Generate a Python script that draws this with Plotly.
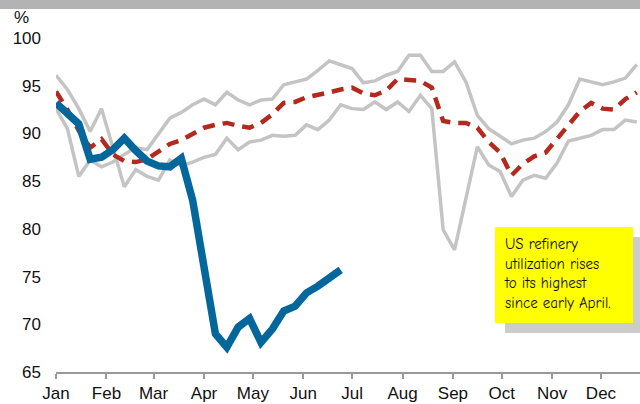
import plotly.graph_objects as go
import pandas as pd

# weekly points, first week of the year to late December
weeks = pd.date_range('2020-01-01', periods=52, freq='7D')

# refinery utilization, % (2020 through late June)
util_2020 = [93.2, 92.2, 91.0, 87.3, 87.5, 88.3, 89.5, 88.2, 87.1, 86.6,
             86.5, 87.4, 83.0, 76.0, 69.0, 67.6, 69.7, 70.6, 68.1, 69.5,
             71.4, 71.9, 73.3, 74.0, 74.8, 75.7]

# five-year average
util_avg = [94.4, 92.5, 90.3, 88.5, 89.4, 87.8, 87.1, 87.0, 87.3, 88.1,
            88.9, 89.3, 90.0, 90.6, 90.9, 91.1, 90.8, 90.6, 91.1, 92.0,
            93.2, 93.3, 93.8, 94.0, 94.3, 94.6, 94.8, 94.2, 94.0, 94.5,
            95.7, 95.6, 95.5, 94.8, 91.3, 91.1, 91.1, 90.6, 89.1, 88.0,
            85.6, 86.8, 87.6, 88.0, 89.4, 90.9, 92.3, 93.2, 92.6, 92.5,
            93.6, 94.3]

# range lines (grey)
range_a = [96.1, 94.6, 92.6, 90.2, 92.6, 88.5, 84.4, 86.2, 85.5, 85.1,
           87.2, 86.6, 87.0, 87.5, 87.8, 89.5, 88.3, 89.1, 89.3, 89.8,
           89.7, 89.8, 90.9, 90.4, 91.4, 93.0, 92.6, 92.5, 93.3, 92.5,
           93.3, 92.3, 94.0, 92.6, 79.9, 77.8, 83.4, 88.6, 86.7, 86.0,
           83.4, 85.1, 85.6, 85.3, 86.9, 89.2, 89.5, 89.8, 90.4, 90.4,
           91.4, 91.2]
range_b = [92.6, 90.5, 85.5, 87.2, 86.5, 87.0, 87.8, 88.5, 88.3, 90.0,
           91.6, 92.2, 93.0, 93.6, 93.0, 94.3, 93.5, 93.0, 93.5, 93.6,
           95.1, 95.4, 95.7, 96.6, 97.6, 97.2, 96.8, 95.3, 95.5, 96.1,
           96.5, 98.2, 98.2, 96.5, 96.5, 97.5, 95.4, 91.9, 90.5, 89.7,
           88.9, 89.3, 89.5, 90.2, 91.2, 93.0, 95.7, 95.4, 95.1, 95.4,
           95.8, 97.2]

y_ticks = [65, 70, 75, 80, 85, 90, 95, 100]
note = 'US refinery<br>utilization rises<br>to its highest<br>since early April.'

W, H = 640, 404
L, R, T, B = 56, 0, 38, 32


def px(x):
    return (x - L) / (W - L - R)


def py(y):
    return (H - B - y) / (H - T - B)


fig = go.Figure()

for s in (range_a, range_b):
    fig.add_trace(go.Scatter(
        x=weeks, y=s, mode='lines',
        line=dict(color='#c4c4c4', width=3.5),
        hoverinfo='skip'
    ))

fig.add_trace(go.Scatter(
    x=weeks, y=util_avg, mode='lines',
    line=dict(color='#b3291d', width=4.5, dash='12px,8px')
))

fig.add_trace(go.Scatter(
    x=weeks[:len(util_2020)], y=util_2020, mode='lines',
    line=dict(color='#03679b', width=7.5)
))

fig.update_layout(
    width=W, height=H,
    showlegend=False,
    plot_bgcolor='white',
    paper_bgcolor='white',
    margin=dict(l=L, r=R, t=T, b=B),
    font=dict(family='Liberation Sans, Arial, sans-serif', size=17,
              color='#111111'),
    shapes=[
        # grey band across the top
        dict(type='rect', xref='paper', yref='paper',
             x0=px(0), x1=px(W), y0=py(9), y1=py(0),
             fillcolor='#b3b3b3', line_width=0, layer='above'),
        # note shadow and box
        dict(type='rect', xref='paper', yref='paper',
             x0=px(505), x1=px(640), y0=py(333), y1=py(237),
             fillcolor='#cccccc', line_width=0, layer='above'),
        dict(type='rect', xref='paper', yref='paper',
             x0=px(495), x1=px(633), y0=py(323), y1=py(227),
             fillcolor='#ffff00', line_width=0, layer='above'),
    ],
    annotations=[
        dict(text='%', xref='paper', yref='paper', x=px(21), y=py(17),
             xanchor='center', yanchor='middle',
             showarrow=False, font=dict(size=17)),
        dict(text=note, xref='paper', yref='paper',
             x=px(502), y=py(273), xanchor='left', yanchor='middle',
             align='left', showarrow=False,
             font=dict(family='Comic Sans MS, Comic Neue, Lato, sans-serif',
                       size=15, color='#111111')),
    ],
)

fig.update_xaxes(
    range=['2020-01-01', '2020-12-25'],
    tick0='2020-01-01', dtick='M1', tickformat='%b',
    showgrid=False, zeroline=False,
    showline=True, linecolor='#999999', linewidth=1.5,
    ticks='outside', ticklen=5, tickwidth=1.5, tickcolor='#999999',
)

fig.update_yaxes(
    range=[65, 100], tickvals=y_ticks,
    showgrid=False, zeroline=False, showline=False,
    ticks='', ticklabelstandoff=14,
)

fig.write_html(
    'out.html',
    config={'displayModeBar': False},
    post_script="document.body.style.margin='0';"
                "document.body.style.overflow='hidden';"
)
